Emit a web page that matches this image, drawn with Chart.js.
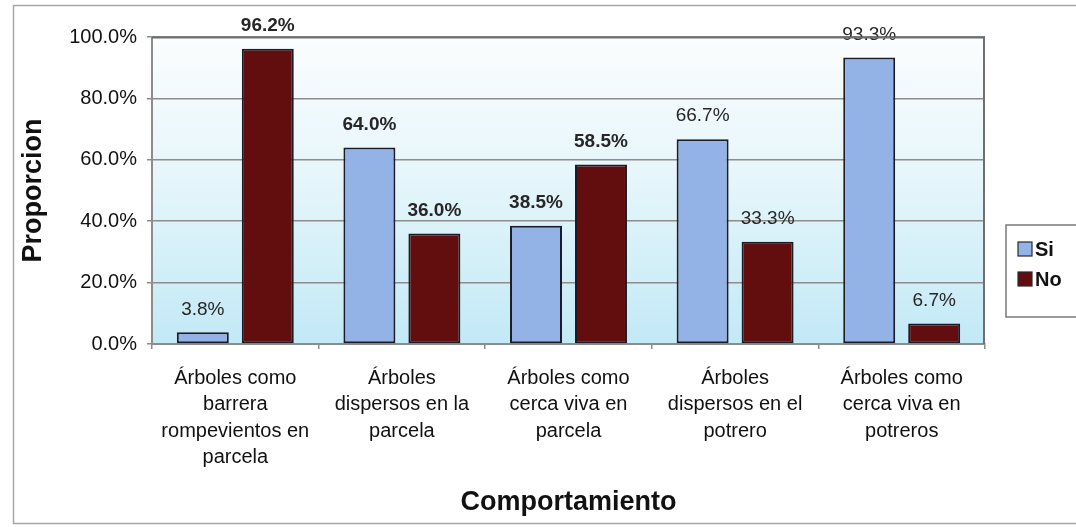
<!DOCTYPE html>
<html>
<head>
<meta charset="utf-8">
<script src="https://cdn.jsdelivr.net/npm/chart.js@4.4.1/dist/chart.umd.min.js"></script>
<style>
  html, body { margin: 0; padding: 0; background: #ffffff; overflow: hidden; }
  #wrap { width: 1076px; height: 527px; position: relative; }
</style>
</head>
<body>
<div id="wrap"><canvas id="c" width="1076" height="527"></canvas></div>
<script>
// ---- data ----
const categories = [
  ["Árboles como", "barrera", "rompevientos en", "parcela"],
  ["Árboles", "dispersos en la", "parcela"],
  ["Árboles como", "cerca viva en", "parcela"],
  ["Árboles", "dispersos en el", "potrero"],
  ["Árboles como", "cerca viva en", "potreros"]
];
const seriesNames = ["Si", "No"];
const siValues = [3.8, 64.0, 38.5, 66.7, 93.3];
const noValues = [96.2, 36.0, 58.5, 33.3, 6.7];
const yTickValues = [0, 20, 40, 60, 80, 100];
const yAxisTitle = "Proporcion";
const xAxisTitle = "Comportamiento";

const FONT = "'Liberation Sans', Arial, Helvetica, sans-serif";
const siColor = "#93b3e6";
const noColor = "#620e0e";
const edgeColor = "#1c1c28";

const plotBackground = {
  id: 'plotBackground',
  beforeDraw(chart) {
    const {ctx, chartArea: a} = chart;
    const g = ctx.createLinearGradient(0, a.top, 0, a.bottom);
    g.addColorStop(0, '#fbfdfe');
    g.addColorStop(0.45, '#e6f6fb');
    g.addColorStop(1, '#c2e9f6');
    ctx.save();
    ctx.fillStyle = g;
    ctx.fillRect(a.left, a.top, a.right - a.left, a.bottom - a.top);
    // outer frame of the chart object
    ctx.strokeStyle = '#a6a6a6';
    ctx.lineWidth = 1.5;
    ctx.beginPath();
    ctx.moveTo(1076, 5.5); ctx.lineTo(13.5, 5.5); ctx.lineTo(13.5, 523.5); ctx.lineTo(1076, 523.5);
    ctx.stroke();
    ctx.restore();
  },
  afterDraw(chart) {
    const {ctx, chartArea: a} = chart;
    ctx.save();
    ctx.strokeStyle = '#6e6e6e';
    ctx.lineWidth = 2;
    ctx.beginPath();
    ctx.moveTo(a.left, a.top + 0.5); ctx.lineTo(a.right - 1, a.top + 0.5); ctx.lineTo(a.right - 1, a.bottom);
    ctx.stroke();
    ctx.restore();
  }
};

const valueLabels = {
  id: 'valueLabels',
  afterDatasetsDraw(chart, args, opts) {
    const {ctx} = chart;
    ctx.save();
    ctx.textAlign = 'center';
    ctx.textBaseline = 'middle';
    ctx.fillStyle = '#262626';
    chart.data.datasets.forEach((ds, di) => {
      const meta = chart.getDatasetMeta(di);
      meta.data.forEach((el, i) => {
        const bold = (opts.bold[di] || []).includes(i);
        ctx.font = (bold ? 'bold ' : '') + '19px ' + FONT;
        ctx.fillText(ds.data[i].toFixed(1) + '%', el.x, el.y - 23);
      });
    });
    ctx.restore();
  }
};

const boxLegend = {
  id: 'boxLegend',
  afterDraw(chart) {
    const {ctx} = chart;
    const left = 1006, top = 225, bottom = 317;
    ctx.save();
    ctx.fillStyle = '#ffffff';
    ctx.fillRect(left, top, 1076 - left, bottom - top);
    ctx.strokeStyle = '#7a7a7a';
    ctx.lineWidth = 1.5;
    ctx.beginPath();
    ctx.moveTo(1076, top); ctx.lineTo(left, top); ctx.lineTo(left, bottom); ctx.lineTo(1076, bottom);
    ctx.stroke();
    ctx.font = 'bold 20px ' + FONT;
    ctx.textBaseline = 'middle';
    chart.data.datasets.forEach((ds, i) => {
      const cy = 249 + i * 30;
      ctx.fillStyle = ds.backgroundColor;
      ctx.fillRect(1018, cy - 7, 14, 14);
      ctx.strokeStyle = '#2a2a2a';
      ctx.lineWidth = 1.2;
      ctx.strokeRect(1018, cy - 7, 14, 14);
      ctx.fillStyle = '#111111';
      ctx.fillText(ds.label, 1035, cy + 1);
    });
    ctx.restore();
  }
};

new Chart(document.getElementById('c'), {
  type: 'bar',
  data: {
    labels: categories,
    datasets: [
      { label: seriesNames[0], data: siValues, backgroundColor: siColor, borderColor: edgeColor,
        borderWidth: 2, borderSkipped: false, categoryPercentage: 0.78, barPercentage: 0.8 },
      { label: seriesNames[1], data: noValues, backgroundColor: noColor, borderColor: edgeColor,
        borderWidth: 2, borderSkipped: false, categoryPercentage: 0.78, barPercentage: 0.8 }
    ]
  },
  options: {
    responsive: false,
    animation: false,
    devicePixelRatio: 1,
    layout: { padding: { left: 14, top: 37, right: 91, bottom: 4 } },
    plugins: {
      legend: { display: false },
      tooltip: { enabled: false },
      valueLabels: { bold: [[1, 2], [0, 1, 2]] }
    },
    scales: {
      x: {
        grid: { display: true, drawOnChartArea: false, tickLength: 5, color: '#8c8c8c', lineWidth: 1.5 },
        border: { display: true, color: '#8c8c8c', width: 2 },
        ticks: { color: '#111111', padding: 16, maxRotation: 0, autoSkip: false,
                 font: { family: FONT, size: 20, lineHeight: '26.5px' } },
        title: { display: true, text: xAxisTitle, color: '#111111',
                 font: { family: FONT, size: 27, weight: 'bold' }, padding: { top: 0, bottom: 4 } },
        afterFit(scale) { scale.height = 179; }
      },
      y: {
        min: 0, max: 100,
        afterBuildTicks(scale) { scale.ticks = yTickValues.map(v => ({ value: v })); },
        grid: { color: '#8c8c8c', lineWidth: 1.5, tickLength: 5 },
        border: { display: true, color: '#8c8c8c', width: 2 },
        ticks: { color: '#111111', padding: 10,
                 font: { family: FONT, size: 20 },
                 callback: v => Number(v).toFixed(1) + '%' },
        title: { display: true, text: yAxisTitle, color: '#111111',
                 font: { family: FONT, size: 27, weight: 'bold' }, padding: { top: 3, bottom: 0 } },
        afterFit(scale) { scale.width = 138; }
      }
    }
  },
  plugins: [plotBackground, valueLabels, boxLegend]
});
</script>
</body>
</html>
